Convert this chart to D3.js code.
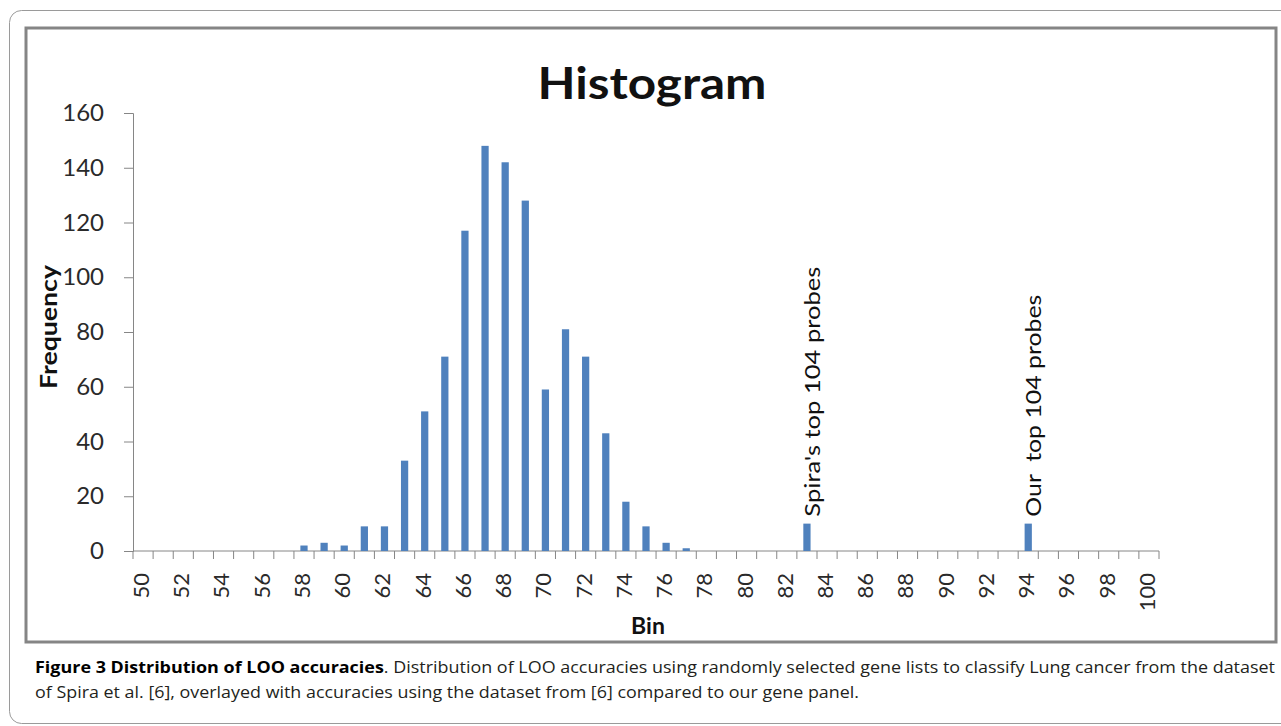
<!DOCTYPE html>
<html>
<head>
<meta charset="utf-8">
<script src="https://cdn.jsdelivr.net/npm/d3@7"></script>
<style>
  body { margin: 0; background: #fff; }
  svg { display: block; }
</style>
</head>
<body>
<script>
// histogram data: LOO accuracy bins and how many gene lists fell in each
const bins = d3.range(50, 101); // 50 .. 100
const counts = [
  0, 0, 0, 0, 0, 0, 0, 0, 2, 3,   // 50-59
  2, 9, 9, 33, 51, 71, 117, 148, 142, 128, // 60-69
  59, 81, 71, 43, 18, 9, 3, 1, 0, 0, // 70-79
  0, 0, 0, 10, 0, 0, 0, 0, 0, 0,  // 80-89
  0, 0, 0, 0, 10, 0, 0, 0, 0, 0,  // 90-99
  0                               // 100
];
const yTicks = [0, 20, 40, 60, 80, 100, 120, 140, 160];
const xLabels = bins.filter((b) => b % 2 === 0);
const markers = [
  { bin: 83, label: "Spira's top 104 probes", len: 250 },
  { bin: 94, label: "Our  top 104 probes", len: 222 }
];
const captionBold = "Figure 3 Distribution of LOO accuracies";
const captionLine1 = ". Distribution of LOO accuracies using randomly selected gene lists to classify Lung cancer from the dataset";
const captionLine2 = "of Spira et al. [6], overlayed with accuracies using the dataset from [6] compared to our gene panel.";

const W = 1281, H = 726;
const font = "Lato, 'Open Sans', sans-serif";
const axisColor = "#868686";

const svg = d3
  .select("body")
  .append("svg")
  .attr("width", W)
  .attr("height", H);

// outer rounded figure box
svg.append("rect")
  .attr("x", 9.5).attr("y", 10.5)
  .attr("width", 1300).attr("height", 713)
  .attr("rx", 12)
  .attr("fill", "none")
  .attr("stroke", "#9a9a9a")
  .attr("stroke-width", 1);

// chart frame
svg.append("rect")
  .attr("x", 26).attr("y", 28)
  .attr("width", 1250).attr("height", 614)
  .attr("fill", "#fff")
  .attr("stroke", "#858585")
  .attr("stroke-width", 3);

// plot area
const plotLeft = 133, plotRight = 1159, plotTop = 113, plotBottom = 551;

const x = d3.scaleBand()
  .domain(bins)
  .range([plotLeft, plotRight])
  .paddingInner(0.64)
  .paddingOuter(0.32);

// bin edges for the tick marks between categories
const edge = d3.scaleLinear().domain([50, 101]).range([plotLeft, plotRight]);

const y = d3.scaleLinear().domain([0, 160]).range([plotBottom, plotTop]);

// y axis
const yAxis = d3.axisLeft(y).tickValues(yTicks).tickSize(9).tickPadding(20);
const gy = svg.append("g").attr("transform", `translate(${plotLeft},0)`).call(yAxis);
gy.select(".domain").attr("stroke", axisColor);
gy.selectAll(".tick line").attr("stroke", axisColor);
gy.selectAll(".tick text")
  .attr("font-family", font)
  .attr("font-size", 24)
  .attr("fill", "#2a2a2a");

// x axis line + ticks at bin edges
const gx = svg.append("g");
gx.append("line")
  .attr("x1", plotLeft).attr("x2", plotRight)
  .attr("y1", plotBottom).attr("y2", plotBottom)
  .attr("stroke", axisColor);
gx.selectAll(".edge")
  .data(d3.range(50, 102))
  .enter()
  .append("line")
  .attr("class", "edge")
  .attr("x1", (d) => edge(d)).attr("x2", (d) => edge(d))
  .attr("y1", plotBottom).attr("y2", plotBottom + 8)
  .attr("stroke", axisColor);

// x tick labels, rotated
gx.selectAll(".xlab")
  .data(xLabels)
  .enter()
  .append("text")
  .attr("class", "xlab")
  .attr("transform", (d) => `translate(${x(d) + x.bandwidth() / 2 - 2},${plotBottom + 22}) rotate(-90)`)
  .attr("text-anchor", "end")
  .attr("dy", "0.36em")
  .attr("font-family", font)
  .attr("font-size", 22)
  .attr("fill", "#2a2a2a")
  .text((d) => d);

// bars
svg.selectAll(".bar")
  .data(bins.map((b, i) => ({ bin: b, count: counts[i] })).filter((d) => d.count > 0))
  .enter()
  .append("rect")
  .attr("class", "bar")
  .attr("x", (d) => x(d.bin))
  .attr("y", (d) => y(d.count))
  .attr("width", x.bandwidth())
  .attr("height", (d) => y(0) - y(d.count))
  .attr("fill", "#4f81bd");

// marker labels above the two reference bars
svg.selectAll(".marker")
  .data(markers)
  .enter()
  .append("text")
  .attr("class", "marker")
  .attr("transform", (d) => `translate(${x(d.bin) + x.bandwidth() / 2 + 5},${y(10) - 7}) rotate(-90)`)
  .attr("dy", "0.36em")
  .attr("font-family", font)
  .attr("font-size", 21)
  .attr("fill", "#111")
  .attr("textLength", (d) => d.len)
  .attr("lengthAdjust", "spacingAndGlyphs")
  .style("white-space", "pre")
  .text((d) => d.label);

// title
svg.append("text")
  .attr("x", 652).attr("y", 99)
  .attr("text-anchor", "middle")
  .attr("font-family", font)
  .attr("font-weight", "bold")
  .attr("font-size", 43)
  .attr("fill", "#111")
  .attr("textLength", 229)
  .attr("lengthAdjust", "spacingAndGlyphs")
  .text("Histogram");

// axis titles
svg.append("text")
  .attr("transform", "translate(57,327) rotate(-90)")
  .attr("text-anchor", "middle")
  .attr("font-family", font)
  .attr("font-weight", "bold")
  .attr("font-size", 23)
  .attr("fill", "#111")
  .attr("textLength", 124)
  .attr("lengthAdjust", "spacingAndGlyphs")
  .text("Frequency");

svg.append("text")
  .attr("x", 648).attr("y", 634)
  .attr("text-anchor", "middle")
  .attr("font-family", font)
  .attr("font-weight", "bold")
  .attr("font-size", 23)
  .attr("fill", "#111")
  .text("Bin");

// caption
const capFont = "'Open Sans', 'Noto Sans', sans-serif";
const cap1 = svg.append("text")
  .attr("x", 35).attr("y", 673)
  .attr("font-family", capFont)
  .attr("font-size", 16.5)
  .attr("fill", "#231f20")
  .attr("textLength", 1240)
  .attr("lengthAdjust", "spacingAndGlyphs");
cap1.append("tspan").attr("font-weight", "bold").attr("fill", "#000").text(captionBold);
cap1.append("tspan").text(captionLine1);

svg.append("text")
  .attr("x", 35).attr("y", 698)
  .attr("font-family", capFont)
  .attr("font-size", 16.5)
  .attr("fill", "#231f20")
  .attr("textLength", 824)
  .attr("lengthAdjust", "spacingAndGlyphs")
  .text(captionLine2);
</script>
</body>
</html>
